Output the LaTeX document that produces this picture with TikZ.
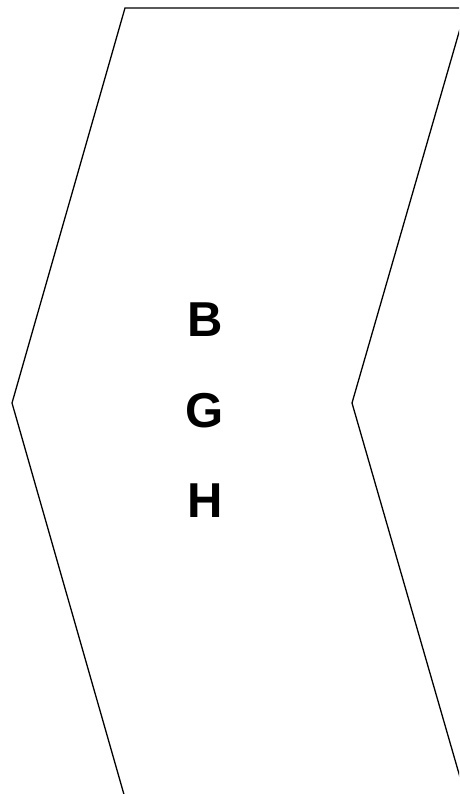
\documentclass[tikz,border=0pt]{standalone}
\usepackage{fontspec}
\setmainfont{Liberation Sans}
\begin{document}
\begin{tikzpicture}[x=1pt,y=-1pt,
  outline/.style={draw=black,line width=1.3pt,line join=miter},
  lbl/.style={font=\fontsize{49}{49}\selectfont\bfseries,inner sep=0pt,anchor=base}]
\useasboundingbox (0,0) rectangle (459,794);
\begin{scope}
\clip (0,0) rectangle (459,794);
\draw[outline] (125,8) coordinate (tl) -- (466,8) coordinate (tr) -- (352,403) coordinate (ri)
  -- (466,798) coordinate (br) -- (125,798) coordinate (bl) -- (12,403) coordinate (li) -- cycle;
\end{scope}
\node[lbl] (b) at (205,336) {B};
\node[lbl] (g) at (205,427) {G};
\node[lbl] (h) at (205,517) {H};
\end{tikzpicture}
\end{document}
